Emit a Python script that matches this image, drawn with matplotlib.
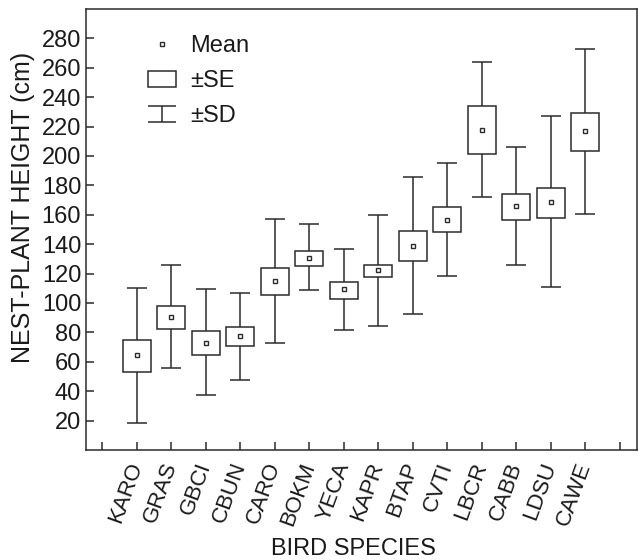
import numpy as np
import matplotlib
matplotlib.use("Agg")
import matplotlib.pyplot as plt
from matplotlib.patches import Patch
from matplotlib.lines import Line2D
from matplotlib.legend_handler import HandlerErrorbar

plt.rcParams['font.family'] = ['Liberation Sans', 'DejaVu Sans']

species = ['KARO', 'GRAS', 'GBCI', 'CBUN', 'CARO', 'BOKM', 'YECA',
           'KAPR', 'BTAP', 'CVTI', 'LBCR', 'CABB', 'LDSU', 'CAWE']
mean = [64.6, 90.8, 72.8, 77.3, 115.0, 130.4, 109.4,
        122.4, 138.9, 156.5, 217.7, 166.2, 169.0, 216.7]
se_lo = [53.2, 82.6, 64.6, 70.5, 105.5, 125.0, 103.0,
         117.4, 128.7, 148.4, 201.1, 156.5, 158.0, 203.6]
se_hi = [74.6, 98.0, 81.0, 83.5, 124.0, 135.4, 114.4,
         125.8, 149.2, 165.6, 233.8, 174.4, 178.5, 229.0]
sd_lo = [18.4, 55.7, 37.3, 47.5, 72.8, 108.7, 81.9,
         84.1, 92.3, 118.3, 172.0, 125.8, 111.0, 160.8]
sd_hi = [110.3, 125.8, 109.4, 107.1, 157.2, 153.7, 136.4,
         159.9, 186.0, 195.4, 264.1, 206.3, 227.2, 272.7]

ink = '#2b2b2b'
txt = '#1a1a1a'
x = np.arange(1, len(species) + 1)
mean = np.array(mean)

fig = plt.figure(figsize=(6.38, 5.6), dpi=100)
ax = fig.add_axes([0.1348, 0.1964, 0.8636, 0.7876])

ax.errorbar(x, mean, yerr=[mean - np.array(sd_lo), np.array(sd_hi) - mean],
            fmt='none', ecolor=ink, elinewidth=1.1, capsize=7.2,
            capthick=1.1, zorder=1)
ax.bar(x, np.array(se_hi) - np.array(se_lo), bottom=se_lo, width=0.8,
       facecolor='white', edgecolor=ink, linewidth=1.1, zorder=2)
ax.plot(x, mean, ls='none', marker='s', ms=3.4, mfc='white', mec=ink,
        mew=1.0, zorder=3)

# legend proxies
h_mean = Line2D([], [], ls='none', marker='s', ms=3.4, mfc='white',
                mec=ink, mew=1.0)
h_se = Patch(facecolor='white', edgecolor=ink, linewidth=1.1)
h_sd = ax.errorbar([np.nan], [np.nan], yerr=[[1], [1]], fmt='none',
                   ecolor=ink, elinewidth=1.1, capsize=10, capthick=1.1)
leg = ax.legend([h_mean, h_se, h_sd], ['Mean', '\u00b1SE', '\u00b1SD'],
                loc='upper left', bbox_to_anchor=(0.091, 0.967),
                frameon=False, fontsize=17, handlelength=1.19,
                handleheight=0.68, handletextpad=0.6, labelspacing=0.55,
                borderpad=0,
                handler_map={type(h_sd): HandlerErrorbar(xerr_size=0.34)})
for t in leg.get_texts():
    t.set_color(txt)

ax.set_xlim(-0.47, 15.5)
ax.set_ylim(0, 300)
ax.set_xticks(np.arange(0, 16))
ax.set_xticklabels([''] + species + [''], rotation=70, ha='right',
                   va='center', rotation_mode='anchor', fontsize=16)
ax.set_yticks(np.arange(20, 281, 20))

ax.tick_params(direction='in', length=5.5, width=1.1, color=ink,
               labelcolor=txt)
ax.tick_params(axis='y', pad=3.5, labelsize=17)
ax.tick_params(axis='x', pad=9.5)
for s in ax.spines.values():
    s.set_color(ink)
    s.set_linewidth(1.1)

ax.set_xlabel('BIRD SPECIES', fontsize=17, color=txt)
ax.set_ylabel('NEST-PLANT HEIGHT (cm)', fontsize=18, color=txt)
ax.xaxis.set_label_coords(0.486, -0.2)
ax.yaxis.set_label_coords(-0.093, 0.549)

fig.savefig('out.png', dpi=100)
